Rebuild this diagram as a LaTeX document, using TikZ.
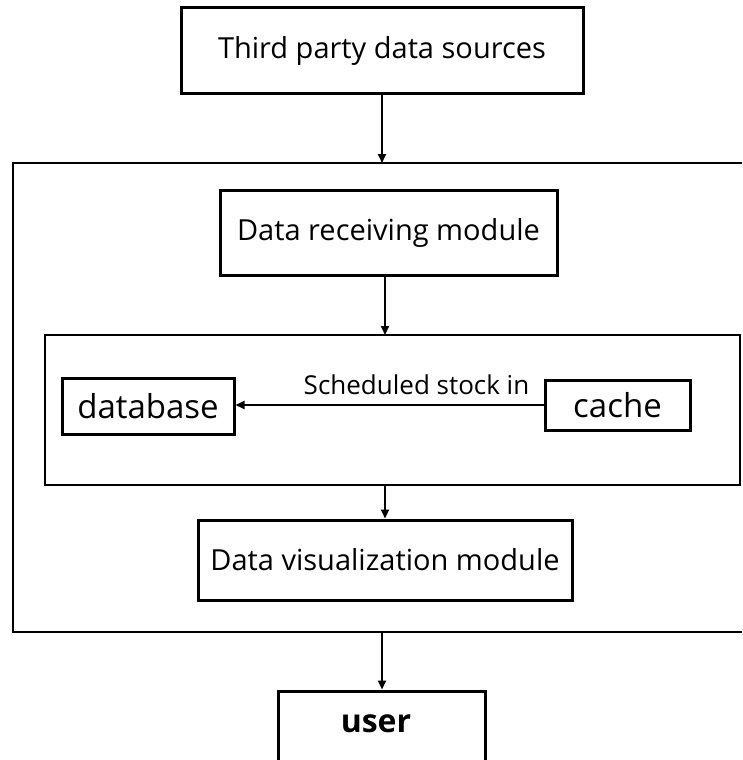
\documentclass[tikz,border=0pt]{standalone}
\usepackage{fontspec}
\setmainfont{Open Sans}
\usetikzlibrary{arrows.meta}
\tikzset{
  box/.style={draw, line width=3pt, inner sep=0pt, font=\fontsize{29}{34}\selectfont},
  bigtext/.style={font=\fontsize{33}{38}\selectfont},
  frame/.style={line width=1.6pt},
  arr/.style={line width=1.8pt, -{Triangle[length=9pt,width=8pt]}},
}
\begin{document}
\begin{tikzpicture}[x=1pt,y=-1pt]
\useasboundingbox (0,0) rectangle (742,760);
% outer container (open on the right)
\coordinate (otl) at (13,163);
\coordinate (obl) at (13,632);
\draw[frame] (742,163) -- (otl) -- (obl) -- (742,632);
\node[box, minimum width=402pt, minimum height=85pt] (third) at (382,50.5) {Third party data sources};
\coordinate (otop) at (382,163);
\node[box, minimum width=337pt, minimum height=85pt] (recv) at (388.5,232.5) {Data receiving module};
\node[draw, frame, minimum width=695pt, minimum height=150pt, inner sep=0pt] (inner) at (392.5,410) {};
\coordinate (itop) at (385,335);
\coordinate (ibot) at (385,485);
\node[box, bigtext, minimum width=172pt, minimum height=56pt] (db) at (148,406) {database\hspace{22pt}};
\node[box, bigtext, minimum width=145pt, minimum height=50pt] (cache) at (617.5,405) {cache};
\node[box, minimum width=374pt, minimum height=80pt] (vis) at (385,560) {Data visualization module};
\coordinate (obot) at (382,632);
\node[box, minimum width=207pt, minimum height=90pt] (user) at (381.5,736) {};
\node[font=\fontsize{32}{36}\selectfont\bfseries] (userlbl) at (376,724) {user};
\draw[arr] (third.south) -- (otop);
\draw[arr] (recv.south -| itop) -- (itop);
\draw[arr] (ibot) -- (vis.north -| ibot);
\draw[arr] (obot) -- (user.north -| obot);
\draw[arr] (cache.west |- 0,405) -- (db.east |- 0,405) node[midway, above=6pt, font=\fontsize{26}{30}\selectfont, xshift=27pt] (lbl) {Scheduled stock in};
\end{tikzpicture}
\end{document}
